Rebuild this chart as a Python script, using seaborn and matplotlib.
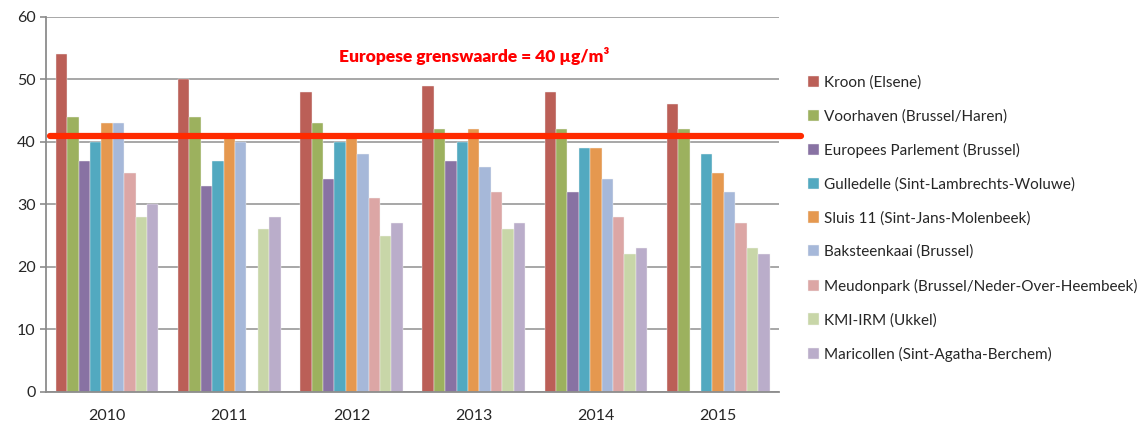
import numpy as np
import pandas as pd
import matplotlib
matplotlib.use('Agg')
import matplotlib.pyplot as plt
import seaborn as sns

# Yearly NO2 averages per measuring station (NaN = no measurement)
years = ['2010', '2011', '2012', '2013', '2014', '2015']
stations = ['Kroon (Elsene)', 'Voorhaven (Brussel/Haren)', 'Europees Parlement (Brussel)',
            'Gulledelle (Sint-Lambrechts-Woluwe)', 'Sluis 11 (Sint-Jans-Molenbeek)',
            'Baksteenkaai (Brussel)', 'Meudonpark (Brussel/Neder-Over-Heembeek)',
            'KMI-IRM (Ukkel)', 'Maricollen (Sint-Agatha-Berchem)']
kroon = [54, 50, 48, 49, 48, 46]
voorhaven = [44, 44, 43, 42, 42, 42]
parlement = [37, 33, 34, 37, 32, np.nan]
gulledelle = [40, 37, 40, 40, 39, 38]
sluis = [43, 41, 41, 42, 39, 35]
baksteenkaai = [43, 40, 38, 36, 34, 32]
meudonpark = [35, np.nan, 31, 32, 28, 27]
kmi = [28, 26, 25, 26, 22, 23]
maricollen = [30, 28, 27, 27, 23, 22]
limit_value = 41
limit_label = 'Europese grenswaarde = 40 µg/m³'

colors = ['#BB5F57', '#9CB15E', '#8872A3', '#52A9C0', '#E5984F',
          '#A6B8D9', '#DCA6A5', '#C8D6A8', '#BAADCA']

series = [kroon, voorhaven, parlement, gulledelle, sluis, baksteenkaai, meudonpark, kmi, maricollen]
rows = []
for name, vals in zip(stations, series):
    for yr, v in zip(years, vals):
        rows.append({'year': yr, 'station': name, 'value': v})
df = pd.DataFrame(rows)

sns.set_style('white')
plt.rcParams['font.family'] = ['Lato', 'DejaVu Sans']

fig = plt.figure(figsize=(11.44, 4.21), dpi=100)
ax = fig.add_axes([0.0402, 0.069, 0.641, 0.891])

sns.barplot(data=df, x='year', y='value', hue='station', order=years, hue_order=stations,
            palette=colors, width=0.84, edgecolor='#F4F4F4', linewidth=0.3, ax=ax,
            legend=True, errorbar=None, saturation=1)

ax.set_ylim(0, 60)
ax.set_xlim(-0.5, len(years) - 0.5)
ax.set_yticks(range(0, 61, 10))
ax.yaxis.grid(True, color='#A0A0A0', linewidth=1.3)
ax.set_axisbelow(True)
ax.set_xlabel('')
ax.set_ylabel('')

# ticks between categories, as in Excel
ax.set_xticks(np.arange(-0.5, len(years)), minor=True)
ax.tick_params(axis='x', which='major', length=0, labelsize=11.5, pad=12)
ax.tick_params(axis='x', which='minor', length=4, color='#8C8C8C', width=1.2, direction='out')
ax.tick_params(axis='y', length=4, color='#8C8C8C', width=1.2, labelsize=11.5, direction='out', left=True)

for side in ['top', 'right']:
    ax.spines[side].set_visible(False)
for side in ['left', 'bottom']:
    ax.spines[side].set_color('#8C8C8C')
    ax.spines[side].set_linewidth(1.3)

# EU limit line, running slightly past the plot area
trans = ax.get_yaxis_transform()
ax.plot([0.006, 1.029], [limit_value, limit_value], color='#FF2A00', linewidth=4.5,
        transform=trans, clip_on=False, zorder=5)
ax.text(3.0, 53.8, limit_label, color='#FF0000', fontsize=12.5, fontweight='heavy',
        ha='center', va='center')

handles, labels = ax.get_legend_handles_labels()
ax.legend_.remove()
fig.legend(handles, labels, loc='upper left', bbox_to_anchor=(0.706, 0.821),
           frameon=False, fontsize=11, handlelength=0.75, handleheight=0.75,
           handletextpad=0.35, labelspacing=1.27, borderpad=0, borderaxespad=0)

fig.savefig('out.png', dpi=100)
